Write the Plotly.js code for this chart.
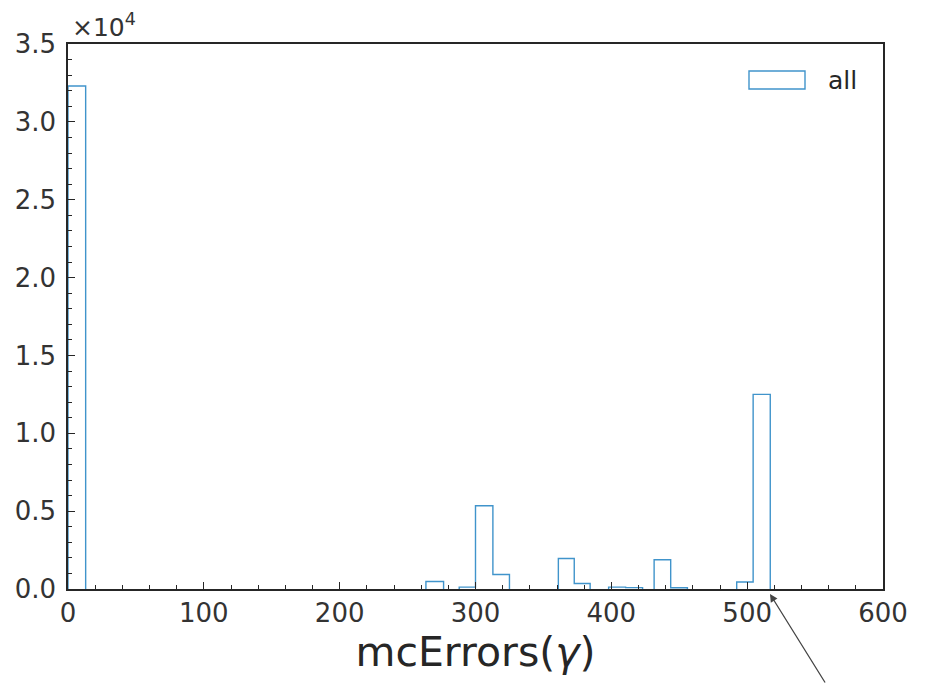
<!DOCTYPE html>
<html>
<head>
<meta charset="utf-8">
<script src="https://cdn.plot.ly/plotly-3.0.1.min.js"></script>
<style>
  html, body { margin: 0; padding: 0; background: #ffffff; }
  #chart { width: 936px; height: 684px; }
</style>
</head>
<body>
<div id="chart"></div>
<script>
// Histogram bins of mcErrors(γ): left edge, right edge, entries
const binLo  = [0,     263.5, 288, 300,  312.8, 361,  372.7, 398, 410.5, 431.5, 443.7, 492.3, 504.4];
const binHi  = [13,    276.5, 300, 312.8, 325,  372.7, 384.4, 410.5, 423, 443.7, 456,  504.4, 517];
const counts = [32300, 480,   120, 5350, 930,   1960, 350,   120, 90,    1880,  80,    450,   12500];

const seriesName = "all";
const xTickVals = [0, 100, 200, 300, 400, 500, 600];
const yTickVals = [0, 5000, 10000, 15000, 20000, 25000, 30000, 35000];
const yTickText = ["0.0", "0.5", "1.0", "1.5", "2.0", "2.5", "3.0", "3.5"];

// Build a step outline (histtype = step); runs of empty bins are left open
const sx = [], sy = [];
for (let i = 0; i < binLo.length; i++) {
  const contiguous = i > 0 && Math.abs(binLo[i] - binHi[i - 1]) < 1e-6;
  if (!contiguous) {
    sx.push(binLo[i]); sy.push(0);
  }
  sx.push(binLo[i]); sy.push(counts[i]);
  sx.push(binHi[i]); sy.push(counts[i]);
  const nextContiguous = i < binLo.length - 1 && Math.abs(binLo[i + 1] - binHi[i]) < 1e-6;
  if (!nextContiguous) {
    sx.push(binHi[i]); sy.push(0);
    sx.push(null); sy.push(null);
  }
}

const lineColor = "#4094cb";
const font = "DejaVu Sans, sans-serif";

const trace = {
  type: "scatter",
  mode: "lines",
  x: sx,
  y: sy,
  name: seriesName,
  connectgaps: false,
  line: { color: lineColor, width: 1.4, shape: "linear" },
  showlegend: false,
  hoverinfo: "skip"
};

const axisCommon = {
  showline: true,
  linecolor: "#262626",
  linewidth: 1.8,
  mirror: true,
  showgrid: false,
  zeroline: false,
  ticks: "inside",
  ticklen: 7,
  tickwidth: 1,
  tickcolor: "#262626",
  tickfont: { family: font, size: 26, color: "#333" }
};

// Legend key: open rectangle patch plus label
const keyX0 = (749 - 68) / 815, keyX1 = (805 - 68) / 815;
const keyY0 = (589 - 89) / 545, keyY1 = (589 - 71) / 545;

const layout = {
  width: 936,
  height: 684,
  margin: { l: 68, r: 53, t: 44, b: 95 },
  paper_bgcolor: "#ffffff",
  plot_bgcolor: "#ffffff",
  font: { family: font, color: "#333" },
  showlegend: false,
  xaxis: Object.assign({}, axisCommon, {
    range: [0, 600],
    tickvals: xTickVals,
    ticklabelstandoff: 0,
    minor: { dtick: 20, tick0: 0, ticks: "inside", ticklen: 4, tickcolor: "#262626", tickwidth: 1 },
    title: { text: "mcErrors(<i>γ</i>)", font: { family: font, size: 41, color: "#262626" }, standoff: 9 }
  }),
  yaxis: Object.assign({}, axisCommon, {
    range: [0, 35000],
    tickvals: yTickVals,
    ticktext: yTickText,
    ticklabelstandoff: 5,
    minor: { dtick: 1000, tick0: 0, ticks: "inside", ticklen: 4, tickcolor: "#262626", tickwidth: 1 }
  }),
  shapes: [
    {
      type: "rect", xref: "paper", yref: "paper",
      x0: keyX0, x1: keyX1, y0: keyY0, y1: keyY1,
      line: { color: lineColor, width: 1.4 },
      fillcolor: "rgba(0,0,0,0)"
    }
  ],
  annotations: [
    {
      text: seriesName,
      xref: "paper", yref: "paper",
      x: (826 - 68) / 815, y: (keyY0 + keyY1) / 2,
      xanchor: "left", yanchor: "middle",
      showarrow: false,
      font: { family: font, size: 25, color: "#262626" }
    },
    {
      text: "×10<sup>4</sup>",
      xref: "paper", yref: "paper",
      x: 0, y: 1,
      xanchor: "left", yanchor: "bottom",
      xshift: 2,
      showarrow: false,
      font: { family: font, size: 25, color: "#333" }
    },
    {
      text: "",
      xref: "paper", yref: "paper",
      x: (770 - 68) / 815, y: -5 / 545,
      showarrow: true,
      arrowhead: 2,
      arrowsize: 1.2,
      arrowwidth: 1.3,
      arrowcolor: "#444",
      ax: 56, ay: 92
    }
  ]
};

Plotly.newPlot("chart", [trace], layout, { displayModeBar: false, staticPlot: true });
</script>
</body>
</html>
